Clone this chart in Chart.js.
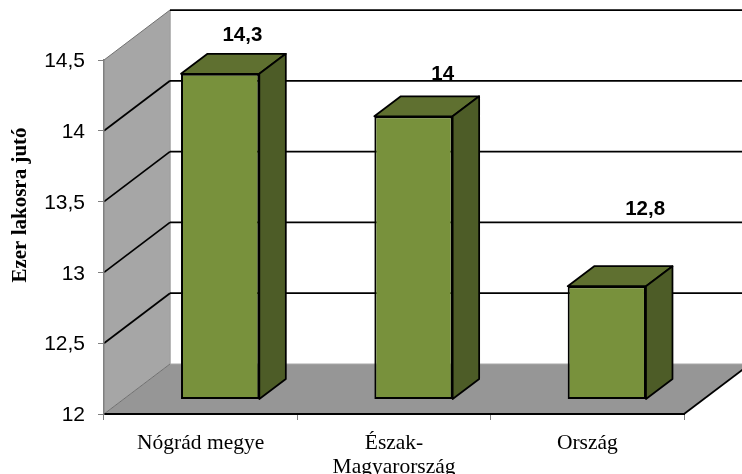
<!DOCTYPE html>
<html>
<head>
<meta charset="utf-8">
<script src="https://cdn.jsdelivr.net/npm/chart.js@4/dist/chart.umd.min.js"></script>
<style>
html, body { margin: 0; padding: 0; background: #fff; }
canvas { display: block; }
</style>
</head>
<body>
<canvas id="barChart" width="742" height="474"></canvas>
<script>
const categories = ['Nógrád megye', ['Észak-', 'Magyarország'], 'Ország'];
const values = [14.3, 14, 12.8];
const axisTitle = 'Ezer lakosra jutó';
const labelNudges = [[9, -18], [16, -22], [25, -57]];

const wallDepth = { x: 66, y: 50 };   // back wall offset from the axis plane
const barInset = { x: 19.5, y: 14.5 };  // bar front face offset from the axis plane
const barDepth = { x: 26.5, y: 20 };

const comma = v => String(v).replace('.', ',');

function poly(ctx, pts, fill, stroke, lw) {
    ctx.beginPath();
    pts.forEach((p, i) => i ? ctx.lineTo(p[0], p[1]) : ctx.moveTo(p[0], p[1]));
    ctx.closePath();
    if (fill) { ctx.fillStyle = fill; ctx.fill(); }
    if (stroke) { ctx.strokeStyle = stroke; ctx.lineWidth = lw; ctx.lineJoin = 'round'; ctx.stroke(); }
}

function line(ctx, x1, y1, x2, y2, color, lw) {
    ctx.beginPath();
    ctx.moveTo(x1, y1);
    ctx.lineTo(x2, y2);
    ctx.strokeStyle = color;
    ctx.lineWidth = lw;
    ctx.stroke();
}

// Side wall, floor and the gridlines running along both walls
const walls = {
    id: 'walls',
    beforeDraw(chart) {
        const { ctx, chartArea: a, scales } = chart;
        const dx = wallDepth.x, dy = wallDepth.y;
        ctx.save();
        poly(ctx, [[a.left, a.top], [a.left + dx, a.top - dy], [a.left + dx, a.bottom - dy], [a.left, a.bottom]], '#a6a6a6');
        poly(ctx, [[a.left, a.bottom], [a.left + dx, a.bottom - dy], [a.right + dx, a.bottom - dy], [a.right, a.bottom]], '#969696');
        line(ctx, a.left + dx, a.top - dy, a.left + dx, a.bottom - dy, '#a0a0a0', 1.5);
        line(ctx, a.left + dx, a.bottom - dy, a.right + dx, a.bottom - dy, '#a8a8a8', 1);
        line(ctx, a.left, a.top, a.left + dx, a.top - dy, '#707070', 1);
        line(ctx, a.left, a.bottom, a.left + dx, a.bottom - dy, '#707070', 1);
        line(ctx, a.right, a.bottom, a.right + dx, a.bottom - dy, '#000', 1.75);
        scales.y.ticks.forEach(t => {
            const y = scales.y.getPixelForValue(t.value);
            if (t.value === 12) return;
            if (t.value !== 14.5) line(ctx, a.left, y, a.left + dx, y - dy, '#000', 1.75);
            line(ctx, a.left + dx, y - dy, chart.width, y - dy, '#000', 1.75);
        });
        ctx.restore();
    }
};

// Pushes the bars back from the axis plane and adds their side and top faces
const bars3d = {
    id: 'bars3d',
    beforeDatasetDraw(chart) {
        chart.ctx.save();
        chart.ctx.translate(barInset.x, -barInset.y);
    },
    afterDatasetDraw(chart, args) {
        const ctx = chart.ctx;
        const dx = barDepth.x, dy = barDepth.y;
        args.meta.data.forEach(bar => {
            const { x, y, base, width } = bar.getProps(['x', 'y', 'base', 'width']);
            const l = x - width / 2, r = x + width / 2;
            poly(ctx, [[l, y], [l + dx, y - dy], [r + dx, y - dy], [r, y]], '#5f7030', '#000', 1.75);
            poly(ctx, [[r, y], [r + dx, y - dy], [r + dx, base - dy], [r, base]], '#4d5c27', '#000', 1.75);
        });
        ctx.restore();
    },
    afterDraw(chart) {
        const { ctx } = chart;
        ctx.save();
        ctx.fillStyle = '#000';
        ctx.textAlign = 'center';
        ctx.textBaseline = 'middle';
        ctx.font = 'bold 20.5px "Liberation Sans"';
        chart.getDatasetMeta(0).data.forEach((bar, i) => {
            const top = bar.y - barInset.y - barDepth.y;
            const cx = bar.x + barInset.x + barDepth.x / 2;
            ctx.fillText(comma(values[i]), cx + labelNudges[i][0], top + labelNudges[i][1]);
        });
        ctx.translate(20.5, 205);
        ctx.rotate(-Math.PI / 2);
        ctx.font = 'bold 21px "Liberation Serif"';
        ctx.fillText(axisTitle, 0, 0);
        ctx.restore();
    }
};

new Chart(document.getElementById('barChart'), {
    type: 'bar',
    data: {
        labels: categories,
        datasets: [{
            data: values,
            base: 12,
            backgroundColor: '#78913c',
            borderColor: '#000',
            borderWidth: 2,
            borderSkipped: false,
            barPercentage: 0.405,
            categoryPercentage: 1,
            clip: false
        }]
    },
    plugins: [walls, bars3d],
    options: {
        responsive: false,
        animation: false,
        layout: { padding: { top: 60, right: 58 } },
        plugins: { legend: { display: false }, tooltip: { enabled: false } },
        scales: {
            x: {
                afterFit: s => { s.height = 60; },
                grid: { drawOnChartArea: false, color: '#808080', tickLength: 6 },
                border: { color: '#000', width: 2 },
                ticks: {
                    color: '#000',
                    padding: 12,
                    autoSkip: false,
                    maxRotation: 0,
                    font: { family: '"Liberation Serif"', size: 21.5, lineHeight: 1.1 }
                }
            },
            y: {
                min: 12,
                max: 14.5,
                afterFit: s => { s.width = 104; },
                grid: { drawOnChartArea: false, color: '#808080', tickLength: 6 },
                border: { color: '#808080', width: 1.5 },
                ticks: {
                    stepSize: 0.5,
                    color: '#000',
                    padding: 13,
                    labelOffset: 1.5,
                    callback: comma,
                    font: { family: '"Liberation Sans"', size: 21 }
                }
            }
        }
    }
});
</script>
</body>
</html>
